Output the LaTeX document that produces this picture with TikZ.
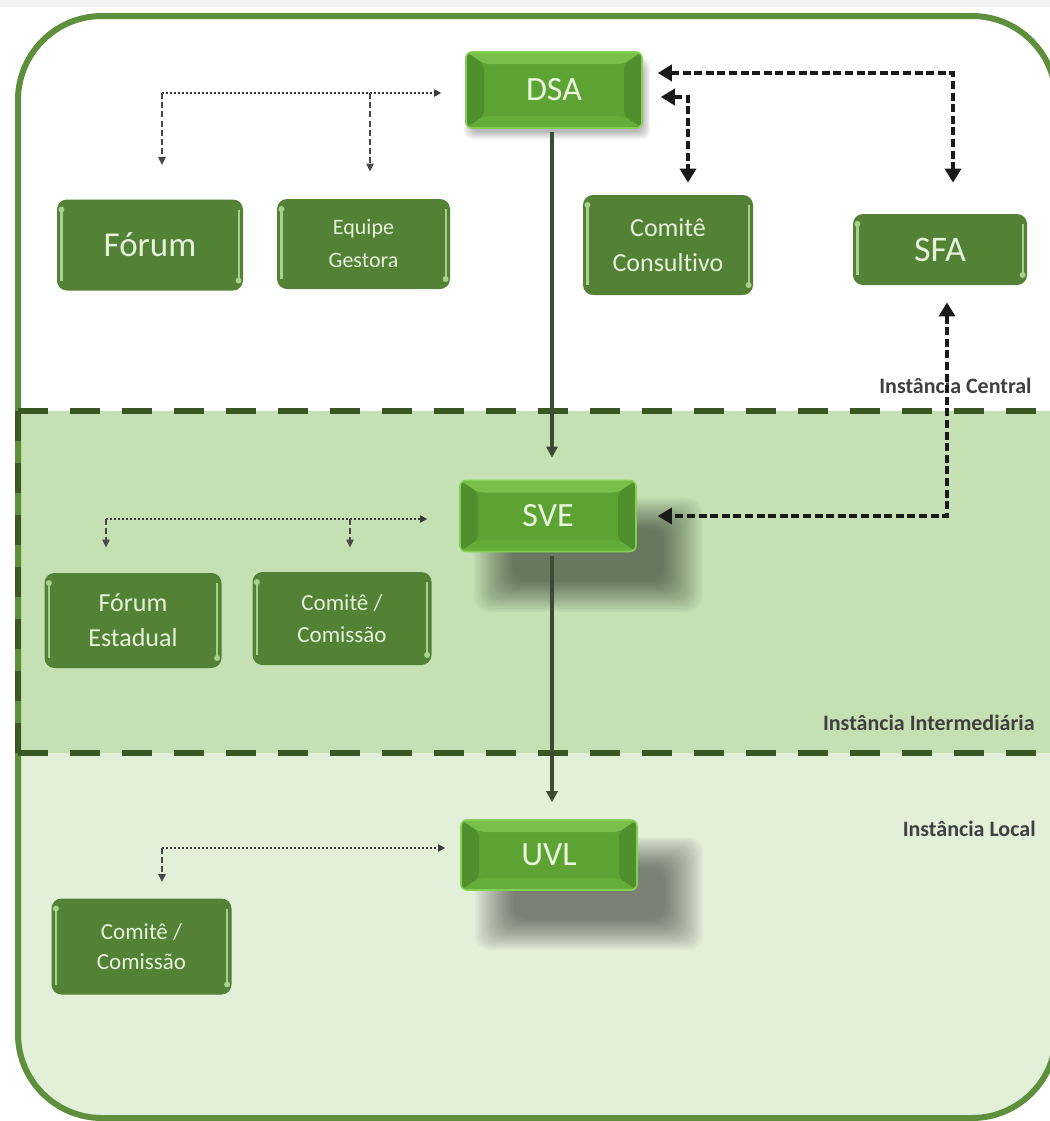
\documentclass[tikz,border=0pt]{standalone}
\usepackage{fontspec}
\setmainfont{Carlito}[Ligatures=NoCommon]
\usetikzlibrary{arrows.meta,calc}

\definecolor{boxgreen}{HTML}{538135}
\definecolor{boxtext}{HTML}{E4F2DA}
\definecolor{hl}{HTML}{A9D18E}
\definecolor{btnmain}{HTML}{5CA334}
\definecolor{btntop}{HTML}{78C049}
\definecolor{btnside}{HTML}{4F8F2C}
\definecolor{btnbot}{HTML}{64AD39}
\definecolor{btnedge}{HTML}{86CF57}
\definecolor{btntext}{HTML}{EAF7DE}
\definecolor{framegreen}{HTML}{5E8F3C}
\definecolor{dashgreen}{HTML}{385723}
\definecolor{bandmid}{HTML}{C5E0B3}
\definecolor{bandlow}{HTML}{E2EFD9}
\definecolor{conn}{HTML}{1A1A1A}
\definecolor{solidconn}{HTML}{3D4A35}
\definecolor{lblgray}{HTML}{404040}

\begin{document}
\begin{tikzpicture}[x=0.5pt,y=-0.5pt,
  darkbox/.style={rounded corners=5pt, fill=boxgreen, text=boxtext, align=center,
    inner sep=0pt, path picture={
      \draw[hl,line width=1.1pt] ([xshift=2.2pt,yshift=-5pt]path picture bounding box.north west) -- ([xshift=2.2pt,yshift=5pt]path picture bounding box.south west);
      \draw[hl,line width=1.1pt] ([xshift=-2.2pt,yshift=-5pt]path picture bounding box.north east) -- ([xshift=-2.2pt,yshift=5pt]path picture bounding box.south east);
      \fill[hl] ([xshift=2.2pt,yshift=-5pt]path picture bounding box.north west) circle (1.5pt);
      \fill[hl] ([xshift=-2.2pt,yshift=5pt]path picture bounding box.south east) circle (1.5pt);
    }},
  btn/.style={rounded corners=3pt, fill=btnmain, draw=btnedge, line width=0.8pt,
    text=btntext, font=\fontsize{17}{20}\selectfont, inner sep=0pt,
    minimum width=88pt, path picture={
      \fill[btntop] (path picture bounding box.north west) -- (path picture bounding box.north east) -- ([xshift=-9pt,yshift=-6pt]path picture bounding box.north east) -- ([xshift=9pt,yshift=-6pt]path picture bounding box.north west) -- cycle;
      \fill[btnside] (path picture bounding box.north west) -- ([xshift=9pt,yshift=-6pt]path picture bounding box.north west) -- ([xshift=9pt,yshift=6pt]path picture bounding box.south west) -- (path picture bounding box.south west) -- cycle;
      \fill[btnside] (path picture bounding box.north east) -- ([xshift=-9pt,yshift=-6pt]path picture bounding box.north east) -- ([xshift=-9pt,yshift=6pt]path picture bounding box.south east) -- (path picture bounding box.south east) -- cycle;
      \fill[btnbot] (path picture bounding box.south west) -- ([xshift=9pt,yshift=6pt]path picture bounding box.south west) -- ([xshift=-9pt,yshift=6pt]path picture bounding box.south east) -- (path picture bounding box.south east) -- cycle;
    }},
  shadowlayer/.style={fill=black, opacity=0.026, rounded corners=7pt},
  dasharrow/.style={draw=conn, line width=1.7pt, dash pattern=on 4pt off 1.8pt,
    <->, >={Triangle[length=7pt,width=8pt]}},
  dotline/.style={draw=conn!85, line width=0.9pt, dash pattern=on 1pt off 1pt,
    -{Triangle[length=3.5pt,width=3.5pt]}},
  dropline/.style={draw=conn!80, line width=1pt, dash pattern=on 3pt off 1.6pt,
    -{Triangle[length=4pt,width=3.5pt]}},
  solidarrow/.style={draw=solidconn, line width=1.6pt,
    -{Triangle[length=5.5pt,width=5.5pt]}},
  lbl/.style={text=lblgray, font=\bfseries\fontsize{11}{13}\selectfont, inner sep=0pt, anchor=base east},
  bandline/.style={draw=dashgreen, line width=3pt, dash pattern=on 15pt off 11pt}
]
\useasboundingbox (0,0) rectangle (1050,1121);
\fill[gray!10] (0,0) rectangle (1050,7);

% bands clipped to the frame
\begin{scope}
  \clip[rounded corners=42pt] (18,16) rectangle (1056,1118);
  \fill[white] (0,0) rectangle (1060,411);
  \fill[bandmid] (0,411) rectangle (1060,753);
  \fill[bandlow] (0,753) rectangle (1060,1121);
\end{scope}
\draw[framegreen, line width=3pt, rounded corners=42pt] (18,16) rectangle (1056,1118);

% dashed instance borders
\draw[bandline] (18,411) -- (1050,411);
\draw[bandline] (18,753) -- (1050,753);
\draw[bandline] (18,411) -- (18,753);

% labels
\node[lbl] (lcentral) at (1032,393) {Instância Central};
\node[lbl] (linter) at (1035,730) {Instância Intermediária};
\node[lbl] (llocal) at (1036,836) {Instância Local};

% soft shadows
\foreach \k in {0,...,19} {
  \fill[shadowlayer] ({474+2*\k},{498+1.6*\k}) rectangle ({702-2*\k},{612-1.6*\k});
  \fill[shadowlayer] ({475+2*\k},{837+1.6*\k}) rectangle ({703-2*\k},{950-1.6*\k});
}
\foreach \k in {0,...,5} {
  \fill[shadowlayer, opacity=0.05, rounded corners=4pt] ({464+1.5*\k},{58+1.5*\k}) rectangle ({650-1.5*\k},{139-1.5*\k});
}

% nodes
\node[btn, minimum height=38pt] (dsa) at (554,90) {DSA};
\node[btn, minimum height=35.5pt] (sve) at (548,516) {SVE};
\node[btn, minimum height=35pt] (uvl) at (549,855) {UVL};

\node[darkbox, minimum width=93pt, minimum height=45.5pt, font=\fontsize{17.5}{20}\selectfont] (forum) at (150,245) {Fórum};
\node[darkbox, minimum width=86.5pt, minimum height=45pt, font=\fontsize{11}{16.5}\selectfont] (equipe) at (363.5,244) {Equipe\\Gestora};
\node[darkbox, minimum width=85pt, minimum height=50pt, font=\fontsize{13}{17.5}\selectfont] (consult) at (668,245) {Comitê\\Consultivo};
\node[darkbox, minimum width=87pt, minimum height=35.5pt, font=\fontsize{18}{20}\selectfont] (sfa) at (940,249.5) {SFA};

\node[darkbox, minimum width=88.5pt, minimum height=47.5pt, font=\fontsize{13}{17.5}\selectfont] (festadual) at (133,620.5) {Fórum\\Estadual};
\node[darkbox, minimum width=89.5pt, minimum height=46.5pt, font=\fontsize{11.5}{16}\selectfont] (ccint) at (342,618.5) {Comitê /\\Comissão};
\node[darkbox, minimum width=90pt, minimum height=48pt, font=\fontsize{11.5}{15}\selectfont] (ccloc) at (141.5,946.5) {Comitê /\\Comissão};

% coordinates for connector corners
\coordinate (tl) at (162,93);
\coordinate (tm) at (370,93);
\coordinate (tr) at (953,73);
\coordinate (tc) at (688,97);
\coordinate (br) at (947,516);
\coordinate (ml) at (106,519);
\coordinate (mm) at (350,519);
\coordinate (ll) at (162,848);
\coordinate (vx) at (552,0);

% main vertical flow
\draw[solidarrow, shorten <=1.5pt, shorten >=11pt] (vx |- dsa.south) -- (vx |- sve.north);
\draw[solidarrow, shorten <=2pt, shorten >=8.5pt] (vx |- sve.south) -- (vx |- uvl.north);

% central instance
\draw[dotline, shorten >=12pt] (tl) -- (dsa.west |- tl);
\draw[dropline, shorten >=17pt] (tl) -- (tl |- forum.north);
\draw[dropline, shorten >=13.5pt] (tm) -- (tm |- equipe.north);
\draw[dasharrow, shorten <=7.5pt, shorten >=15.5pt] (dsa.east |- tr) -- (tr) -- (tr |- sfa.north);
\draw[dasharrow, shorten <=9pt, shorten >=6pt] (dsa.east |- tc) -- (tc) -- (tc |- consult.north);
\draw[dasharrow, shorten <=8.5pt, shorten >=10.5pt] (br |- sfa.south) -- (br) -- (sve.east |- br);

% intermediate instance
\draw[dotline, shorten >=16pt] (ml) -- (sve.west |- ml);
\draw[dropline, shorten >=12.5pt] (ml) -- (ml |- festadual.north);
\draw[dropline, shorten >=12pt] (mm) -- (mm |- ccint.north);

% local instance
\draw[dotline, shorten >=7.5pt] (ll) -- (uvl.west |- ll);
\draw[dropline, shorten >=8pt] (ll) -- (ll |- ccloc.north);
\end{tikzpicture}
\end{document}
